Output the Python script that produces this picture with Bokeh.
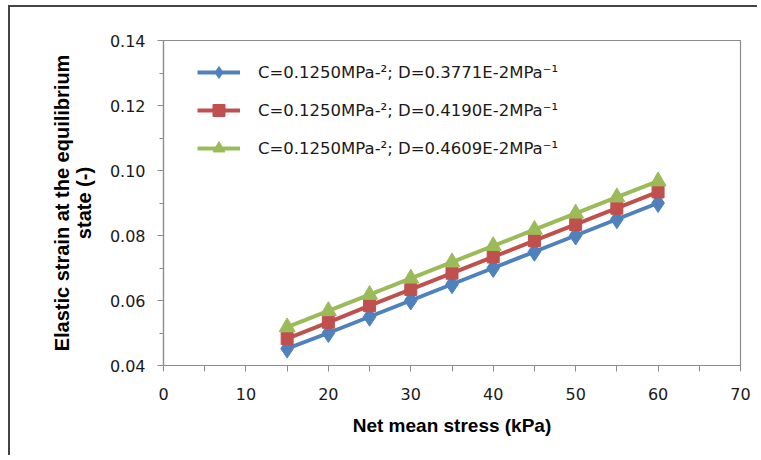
from bokeh.plotting import figure
from bokeh.models import Range1d, FixedTicker, Legend, LegendItem, PrintfTickFormatter
from bokeh.embed import file_html
from bokeh.resources import INLINE

# ---- data ----
stress = [15, 20, 25, 30, 35, 40, 45, 50, 55, 60]
strain_d3771 = [0.0452, 0.0500, 0.0550, 0.0600, 0.0650, 0.0700, 0.0750, 0.0800, 0.0850, 0.0900]
strain_d4190 = [0.0483, 0.0533, 0.0584, 0.0634, 0.0684, 0.0734, 0.0784, 0.0834, 0.0884, 0.0934]
strain_d4609 = [0.0518, 0.0568, 0.0618, 0.0668, 0.0718, 0.0768, 0.0818, 0.0868, 0.0918, 0.0967]
labels = [
    "C=0.1250MPa-\u00b2; D=0.3771E-2MPa\u207b\u00b9",
    "C=0.1250MPa-\u00b2; D=0.4190E-2MPa\u207b\u00b9",
    "C=0.1250MPa-\u00b2; D=0.4609E-2MPa\u207b\u00b9",
]
x_major = [0, 10, 20, 30, 40, 50, 60, 70]
x_minor = [5, 15, 25, 35, 45, 55, 65]
y_major = [0.04, 0.06, 0.08, 0.10, 0.12, 0.14]
y_minor = [0.05, 0.07, 0.09, 0.11, 0.13]

# canvas origin (page coords) after margin + border
OX, OY = 10, 7
W, H = 749, 450
p = figure(width=W, height=H, output_backend="svg", toolbar_location=None,
           x_range=Range1d(0, 70), y_range=Range1d(0.04, 0.14))
p.min_border_left = 163 - OX
p.min_border_top = 40 - OY
p.min_border_right = (OX + W) - 740
p.min_border_bottom = (OY + H) - 365
p.background_fill_color = "white"
p.border_fill_color = "white"
p.outline_line_color = "#8c8c8c"
p.outline_line_width = 1.2
p.xgrid.visible = False
p.ygrid.visible = False
p.styles = {"margin-left": "8px", "margin-top": "5px",
            "border-style": "solid none none solid",
            "border-width": "2px", "border-color": "#444444"}

tick_font = "DejaVu Sans"
for ax in (p.xaxis[0], p.yaxis[0]):
    ax.axis_line_color = "#8c8c8c"
    ax.axis_line_width = 1.2
    ax.major_tick_line_color = "#8c8c8c"
    ax.minor_tick_line_color = "#8c8c8c"
    ax.major_tick_in = 0
    ax.minor_tick_in = 0
    ax.major_label_text_font = tick_font
    ax.major_label_text_font_size = "16px"
    ax.major_label_text_color = "#1a1a1a"
    ax.axis_label_text_font = "Liberation Sans"
    ax.axis_label_text_font_style = "bold"
    ax.axis_label_text_color = "black"

xa = p.xaxis[0]
xa.ticker = FixedTicker(ticks=x_major, minor_ticks=x_minor)
xa.major_tick_out = 6
xa.minor_tick_out = 6
xa.major_label_standoff = 16
xa.axis_label = "Net mean stress (kPa)"
xa.axis_label_text_font_size = "19px"
xa.axis_label_standoff = 12

ya = p.yaxis[0]
ya.ticker = FixedTicker(ticks=y_major, minor_ticks=y_minor)
ya.formatter = PrintfTickFormatter(format="%.2f")
ya.major_tick_out = 6
ya.minor_tick_out = 4
ya.major_label_standoff = 12
ya.axis_label = "Elastic strain at the equilibrium\nstate (-)"
ya.axis_label_text_font_size = "20px"
ya.axis_label_text_line_height = 1.0
ya.axis_label_standoff = 12

colors = ["#4F81BD", "#C0504D", "#9BBB59"]
series = [strain_d3771, strain_d4190, strain_d4609]
markers = ["diamond", "square", "triangle"]
msizes = [19, 12, 16]
items = []
for ys, c, m, s, lab in zip(series, colors, markers, msizes, labels):
    r1 = p.line(stress, ys, line_color=c, line_width=4)
    r2 = p.scatter(stress, ys, marker=m, size=s, fill_color=c, line_color=c)
    items.append(LegendItem(label=lab, renderers=[r1, r2]))

legend = Legend(items=items, location=(34, 325 - 17 - 106))
legend.border_line_color = None
legend.background_fill_alpha = 0
legend.padding = 0
legend.margin = 0
legend.spacing = 8
legend.glyph_width = 43
legend.glyph_height = 30
legend.label_height = 20
legend.label_standoff = 18
legend.label_text_font = tick_font
legend.label_text_font_size = "16.5px"
legend.label_text_color = "#1a1a1a"
p.add_layout(legend)

open("out.html", "w").write(file_html(p, INLINE))
